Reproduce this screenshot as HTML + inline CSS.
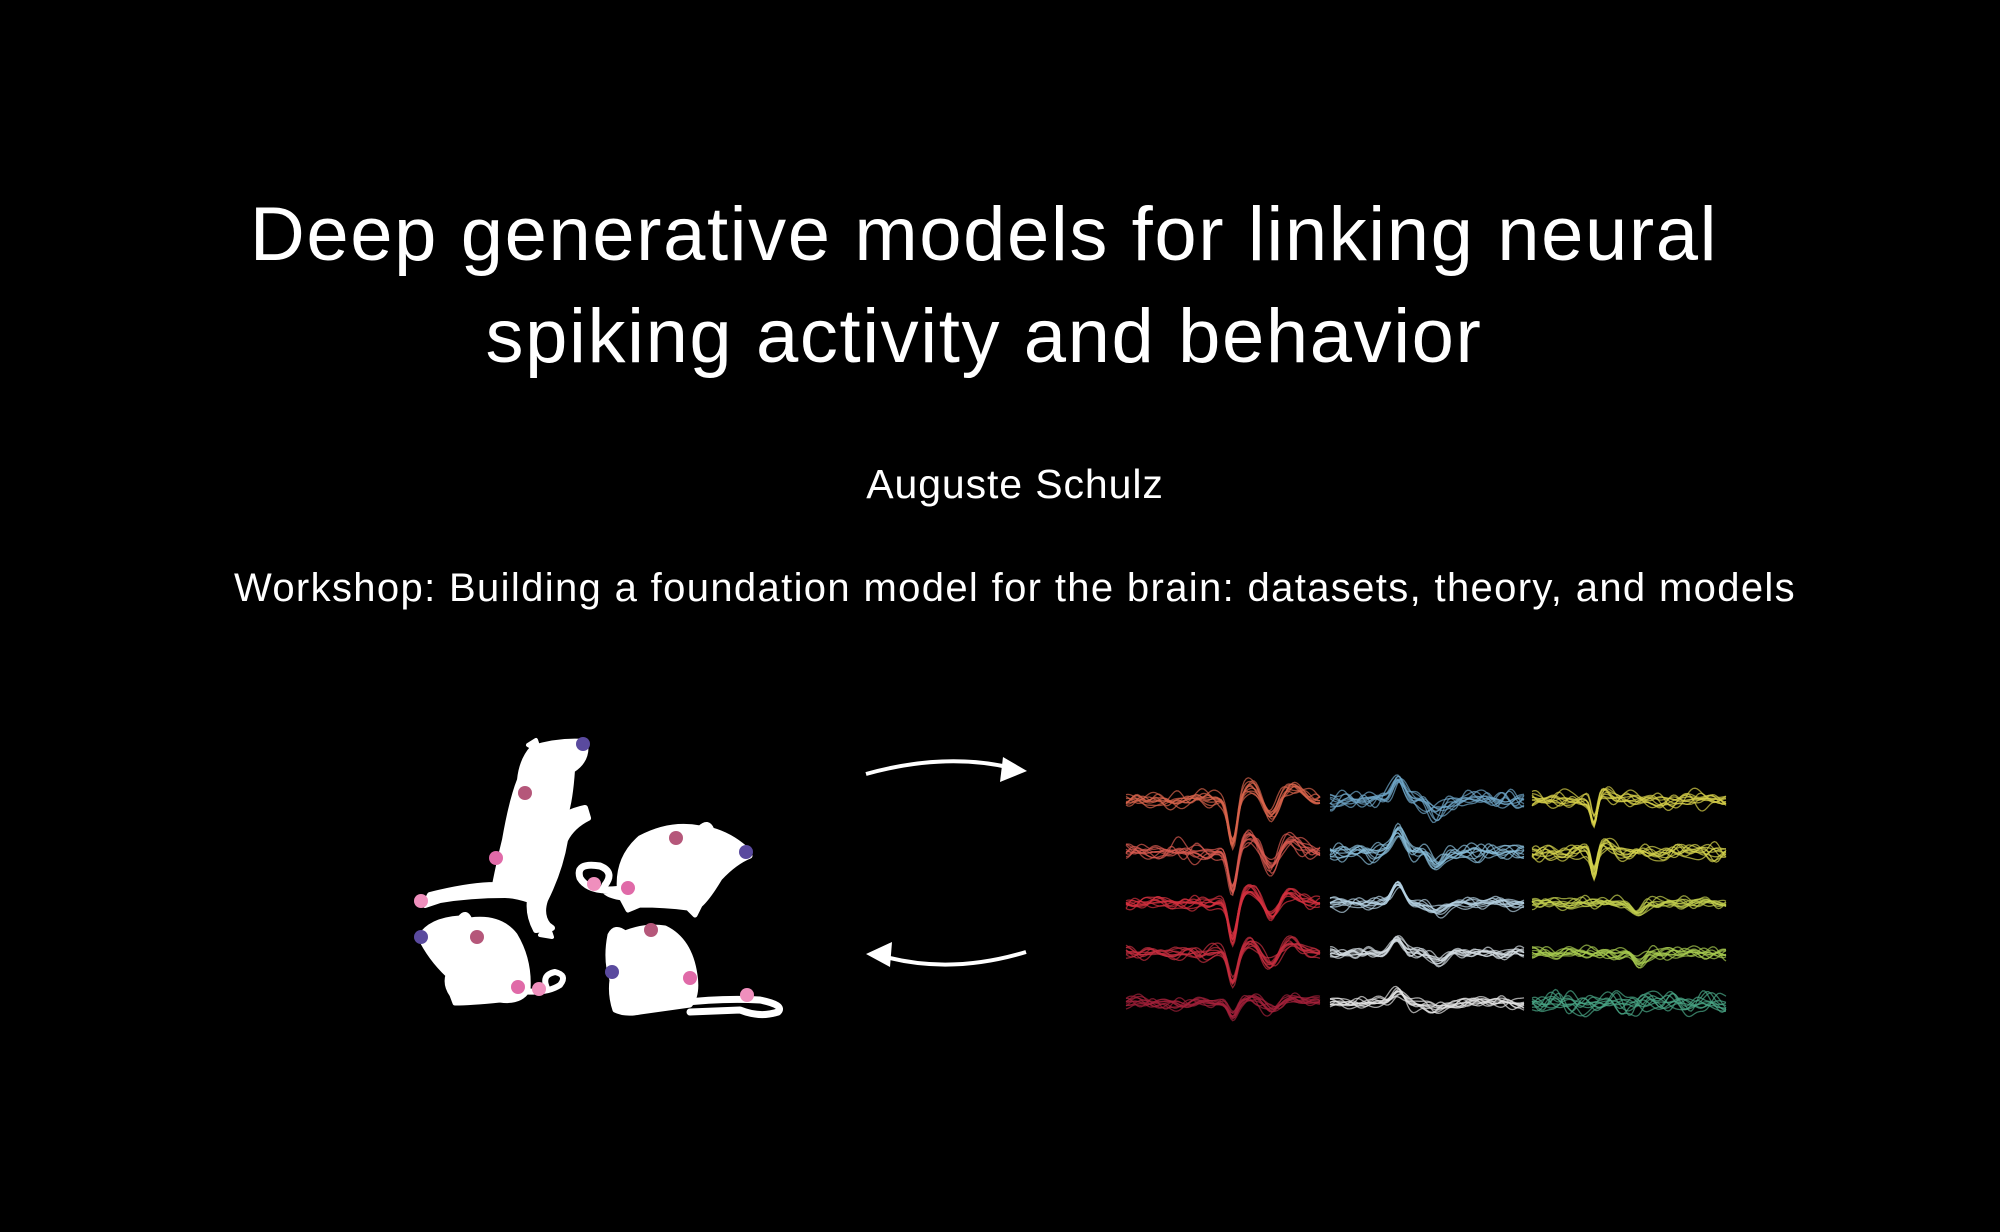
<!DOCTYPE html>
<html><head><meta charset="utf-8">
<style>
html,body{margin:0;padding:0;background:#000;}
#c{position:relative;width:2000px;height:1232px;background:#000;overflow:hidden;font-family:"Liberation Sans",Arial,sans-serif;color:#fff;}
.t{position:absolute;left:0;width:1968px;text-align:center;white-space:nowrap;}
</style></head><body>
<div id="c">
<div class="t" style="top:197px;font-size:76px;line-height:76px;letter-spacing:1.6px;">Deep generative models for linking neural</div>
<div class="t" style="top:299px;font-size:76px;line-height:76px;letter-spacing:1.6px;">spiking activity and behavior</div>
<div class="t" style="left:0;width:2030px;top:464px;font-size:41px;line-height:41px;letter-spacing:0.9px;">Auguste Schulz</div>
<div class="t" style="left:0;width:2030px;top:568px;font-size:40px;line-height:40px;letter-spacing:1.35px;">Workshop: Building a foundation model for the brain: datasets, theory, and models</div>
<svg width="2000" height="1232" style="position:absolute;left:0;top:0">
 <path d="M866 774 Q945 752 1012 768" fill="none" stroke="#fff" stroke-width="4"/>
 <polygon points="1027,771 1003,757 1000,782" fill="#fff"/>
 <path d="M1026 952 Q950 975 882 956" fill="none" stroke="#fff" stroke-width="4"/>
 <polygon points="866,954 892,942 890,967" fill="#fff"/>
 <g fill="#fff" stroke="#fff" stroke-linecap="round" stroke-linejoin="round">
  <path d="M533 748 Q560 740 585 742 Q588 760 572 770 Q570 800 565 815 Q575 810 585 808 L588 818 Q572 826 565 840 Q560 870 545 900 Q540 915 548 925 L552 928 L536 930 Q528 915 530 900 Q515 895 505 895 Q470 895 440 900 L425 905 L430 895 Q470 885 495 885 Q500 860 505 840 Q512 800 520 780 Q522 760 533 748 Z" stroke-width="6"/>
  <path d="M548 925 L552 937 L540 935 Z" stroke-width="4"/>
  <path d="M528 745 L536 740 L540 752 Z" stroke-width="4"/>
  <path d="M620 895 Q615 860 640 838 Q670 822 700 828 Q708 820 712 830 Q730 835 745 848 L750 856 Q735 862 720 878 Q708 898 700 905 L695 915 L688 908 Q665 905 640 905 L628 910 Z" stroke-width="5"/>
  <path d="M628 888 Q590 895 580 878 Q575 862 600 866 Q615 872 605 885 Q600 895 630 898" fill="none" stroke-width="7"/>
  <path d="M420 937 Q430 920 460 918 Q466 910 470 920 Q500 916 515 935 Q530 960 528 990 Q520 1003 500 1000 Q470 1003 455 1003 L452 995 Q445 985 448 975 Q430 958 420 937 Z" stroke-width="5"/>
  <path d="M515 990 Q545 995 560 985 Q568 975 555 972 Q540 975 548 990" fill="none" stroke-width="6"/>
  <path d="M610 935 Q615 925 625 933 Q645 925 665 928 Q690 940 695 975 Q698 995 690 1005 L640 1012 Q625 1015 615 1010 Q610 995 612 980 Q605 960 610 935 Z" stroke-width="5"/>
  <path d="M680 1003 Q720 998 760 1000 Q785 1005 778 1012 Q760 1018 740 1010 L690 1012" fill="none" stroke-width="7"/>
 </g>
 <g>
  <circle cx="583" cy="744" r="7" fill="#5a4a9e"/><circle cx="525" cy="793" r="7" fill="#b5577a"/>
  <circle cx="496" cy="858" r="7" fill="#e06aa8"/><circle cx="421" cy="901" r="7" fill="#ef8fbd"/>
  <circle cx="676" cy="838" r="7" fill="#b5577a"/><circle cx="746" cy="852" r="7" fill="#5a4a9e"/>
  <circle cx="628" cy="888" r="7" fill="#e06aa8"/><circle cx="594" cy="884" r="7" fill="#ef8fbd"/>
  <circle cx="421" cy="937" r="7" fill="#5a4a9e"/><circle cx="477" cy="937" r="7" fill="#b5577a"/>
  <circle cx="518" cy="987" r="7" fill="#e06aa8"/><circle cx="539" cy="989" r="7" fill="#ef8fbd"/>
  <circle cx="651" cy="930" r="7" fill="#b5577a"/><circle cx="612" cy="972" r="7" fill="#5a4a9e"/>
  <circle cx="690" cy="978" r="7" fill="#e06aa8"/><circle cx="747" cy="995" r="7" fill="#ef8fbd"/>
 </g>
 <g id="w" fill="none" stroke-width="1.3" stroke-opacity="0.7"></g>
</svg>
</div>
<script>
(function(){
var seed=7;function r(){seed=(seed*16807)%2147483647;return seed/2147483647;}
var cols=[1126,1330,1532],W=194,rows=[800,852,903,953,1003];
var colors=[["#d9644c","#d95a50","#d4303f","#c42e3e","#a4213a"],
["#6fa6c9","#88bcd9","#b5d2e3","#d4dde2","#e6e6e6"],
["#d8d24a","#d6d44d","#c3d04f","#a8cc50","#4aa888"]];
function g(x,c,s){return Math.exp(-((x-c)*(x-c))/(2*s*s));}
function shape(ci,ri,f){
 if(ci==0){var a=[44,40,36,30,14][ri];return a*g(f,0.55,0.022)-0.35*a*g(f,0.64,0.04)+0.4*a*g(f,0.75,0.035)-0.3*a*g(f,0.85,0.05);}
 if(ci==1){var a=[22,22,18,14,10][ri];return -a*g(f,0.35,0.03)+0.5*a*g(f,0.55,0.04);}
 var a=[24,24,0,0,0][ri],b=[0,0,10,10,0][ri];
 return a*g(f,0.32,0.015)-0.3*a*g(f,0.38,0.03)+b*g(f,0.55,0.03);
}
var out="";
for(var ci=0;ci<3;ci++)for(var ri=0;ri<5;ri++){
 var noise=(ci==2&&ri==4)?20:(ri<2?15:11);
 for(var k=0;k<10;k++){
  var ph=[r()*6,r()*6,r()*6,r()*6],fr=[10+r()*5,20+r()*6,34+r()*8,52+r()*10],am=[r(),r(),r(),r()*0.6];
  var d="";
  for(var i=0;i<=100;i++){var f=i/100,x=cols[ci]+f*W;
   var y=rows[ri]+shape(ci,ri,f);
   for(var j=0;j<4;j++)y+=noise*0.35*am[j]*Math.sin(fr[j]*f+ph[j]);
   d+=(i?"L":"M")+x.toFixed(1)+" "+y.toFixed(1);}
  out+='<path d="'+d+'" stroke="'+colors[ci][ri]+'"/>';
 }
}
document.getElementById("w").innerHTML=out;
})();
</script>
</body></html>
